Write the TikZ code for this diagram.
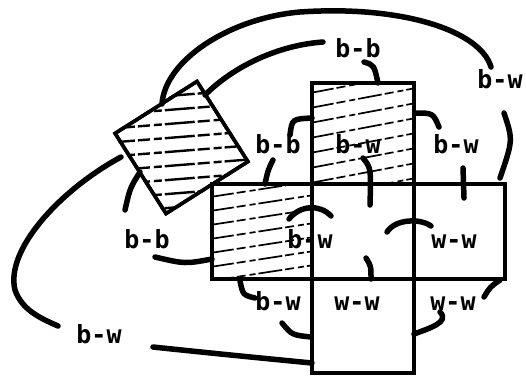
\documentclass[tikz,border=0pt]{standalone}
\usepackage{fontspec}
\newfontfamily\labfont{DejaVu Sans Mono}
\begin{document}
\begin{tikzpicture}[x=1pt,y=-1pt,
  lab/.style={font=\labfont\bfseries\fontsize{25}{25}\selectfont, inner sep=0pt, anchor=base},
  cell/.style={draw, line width=3.5pt, inner sep=0pt},
  conn/.style={line width=5.5pt, line cap=round},
  hatch/.style={line width=1.7pt, dash pattern=on 24pt off 3pt on 9pt off 4pt on 6pt off 3pt},
  thatch/.style={line width=2.4pt, dash pattern=on 30pt off 3pt on 12pt off 4pt on 8pt off 3pt}]
\fill[white] (0,0) rectangle (526,376);
\useasboundingbox (0,0) rectangle (526,376);

% cells of the cross
\node[cell, minimum width=102pt, minimum height=101pt] (top) at (363,133.5) {};
\node[cell, minimum width=100pt, minimum height=95pt] (left) at (262,231.5) {};
\node[cell, minimum width=102pt, minimum height=95pt] (mid) at (363,231.5) {};
\node[cell, minimum width=91pt, minimum height=95pt] (right) at (459.5,231.5) {};
\node[cell, minimum width=102pt, minimum height=94pt] (bot) at (363,326) {};
% tilted square
\node[cell, minimum width=97pt, minimum height=95pt, rotate=32.4] (tilt) at (181.5,147.5) {};

% hatching
\begin{scope}
\clip (top.north west) rectangle (top.south east);
\foreach \y in {93,108,123,138,153,168,183,198}
  \draw[hatch] (310,\y) -- (416,\y-20);
\end{scope}
\begin{scope}
\clip (left.north west) rectangle (left.south east);
\foreach \y in {197,211,225,239,253,267,281,295}
  \draw[hatch] (210,\y) -- (314,\y-16);
\end{scope}
\begin{scope}
\clip (tilt.north west) -- (tilt.north east) -- (tilt.south east) -- (tilt.south west) -- cycle;
\foreach \y in {95,109,123,137,151,165,179,193,207,221}
  \draw[thatch] (105,\y+6) -- (255,\y-6);
\end{scope}
\node[cell, minimum width=97pt, minimum height=95pt, rotate=32.4] at (tilt.center) {};

% labels
\node[lab] (l1) at (358,57) {b-b};
\node[lab] (l2) at (500,88) {b-w};
\node[lab] (l3) at (278,153) {b-b};
\node[lab] (l4) at (358,153) {b-w};
\node[lab] (l5) at (456,153) {b-w};
\node[lab] (l6) at (147,248) {b-b};
\node[lab] (l7) at (310,248) {b-w};
\node[lab] (l8) at (454,248) {w-w};
\node[lab] (l9) at (278,310) {b-w};
\node[lab] (l10) at (357,310) {w-w};
\node[lab] (l11) at (453,310) {w-w};
\node[lab] (l12) at (99,343) {b-w};

% connector end points
\coordinate (a1) at (162,104); \coordinate (a2) at (491,67);
\coordinate (b1) at (205,95);  \coordinate (b2) at (323,42);
\coordinate (c1) at (364,62);  \coordinate (c2) at (378,83);
\coordinate (d1) at (504,113); \coordinate (d2) at (500,178);
\coordinate (e1) at (312,118); \coordinate (e2) at (290,135);
\coordinate (e3) at (273,160); \coordinate (e4) at (265,184);
\coordinate (f1) at (363,158); \coordinate (f2) at (370,205);
\coordinate (g1) at (415,113); \coordinate (g2) at (439,127);
\coordinate (g3) at (463,168); \coordinate (g4) at (464,198);
\coordinate (h1) at (140,172); \coordinate (h2) at (125,210);
\coordinate (h3) at (155,257); \coordinate (h4) at (212,259);
\coordinate (i1) at (121,157); \coordinate (i2) at (58,326);
\coordinate (i3) at (153,347); \coordinate (i4) at (312,363);
\coordinate (j1) at (289,219); \coordinate (j2) at (331,216);
\coordinate (k1) at (366,258); \coordinate (k2) at (371,279);
\coordinate (m1) at (387,232); \coordinate (m2) at (431,226);
\coordinate (n1) at (240,281); \coordinate (n2) at (255,298);
\coordinate (n3) at (282,323); \coordinate (n4) at (311,337);
\coordinate (o1) at (500,280); \coordinate (o2) at (484,297);
\coordinate (o3) at (440,312); \coordinate (o4) at (414,334);

% connectors
\draw[conn] (a1) .. controls (165,60) and (230,18) .. (300,12)
                 .. controls (400,5) and (480,30) .. (a2);
\draw[conn] (b1) .. controls (235,65) and (280,45) .. (b2);
\draw[conn] (c1) .. controls (374,65) .. (c2);
\draw[conn] (d1) .. controls (513,140) .. (d2);
\draw[conn] (e1) .. controls (292,119) .. (e2);
\draw[conn] (e3) .. controls (268,170) .. (e4);
\draw[conn] (f1) .. controls (371,168) .. (f2);
\draw[conn] (g1) .. controls (433,113) .. (g2);
\draw[conn] (g3) -- (g4);
\draw[conn] (h1) .. controls (130,188) .. (h2);
\draw[conn] (h3) .. controls (185,264) .. (h4);
\draw[conn] (i1) .. controls (60,190) and (5,250) .. (15,290)
                 .. controls (22,310) and (40,318) .. (i2);
\draw[conn] (i3) .. controls (200,352) and (260,358) .. (i4);
\draw[conn] (j1) .. controls (300,205) and (320,204) .. (j2);
\draw[conn] (k1) .. controls (371,266) .. (k2);
\draw[conn] (m1) .. controls (395,219) and (420,218) .. (m2);
\draw[conn] (n1) .. controls (243,295) .. (n2);
\draw[conn] (n3) .. controls (292,335) .. (n4);
\draw[conn] (o1) .. controls (490,287) .. (o2);
\draw[conn] (o3) .. controls (450,322) and (430,328) .. (o4);
\end{tikzpicture}
\end{document}
